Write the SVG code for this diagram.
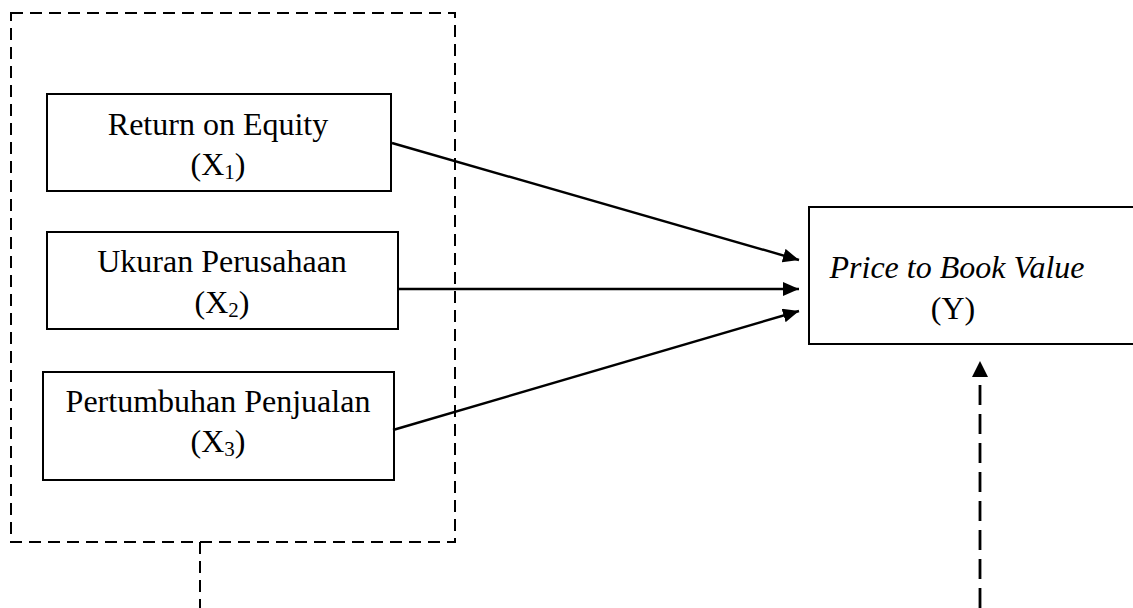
<svg xmlns="http://www.w3.org/2000/svg" width="1133" height="608" viewBox="0 0 1133 608">
<style>
.node{fill:#fff;stroke:#000;stroke-width:2}
.t{font-family:"Liberation Serif","Times New Roman",serif;font-size:32px;fill:#000;text-anchor:middle}
.it{font-style:italic}
.solid{fill:none;stroke:#000;stroke-width:2.4}
.dash{fill:none;stroke:#000;stroke-width:2;stroke-dasharray:12 7}
.dash2{fill:none;stroke:#000;stroke-width:2.8;stroke-dasharray:20 9}
</style>
<defs>
<marker id="ah" viewBox="0 0 16 14" refX="16" refY="7" markerWidth="16" markerHeight="14" markerUnits="userSpaceOnUse" orient="auto">
<path d="M0,0 L16,7 L0,14 Z" fill="#000"/>
</marker>
</defs>
<rect width="1133" height="608" fill="#fff"/>
<g id="group-box">
<rect x="11" y="13" width="444" height="529" class="dash"/>
</g>
<g id="x1">
<rect x="47" y="94" width="344" height="97" class="node"/>
<text class="t" x="218" y="135">Return on Equity</text>
<text class="t" x="218" y="175">(X<tspan font-size="21" dy="4">1</tspan><tspan dy="-4">)</tspan></text>
</g>
<g id="x2">
<rect x="47" y="232" width="351" height="97" class="node"/>
<text class="t" x="222" y="272">Ukuran Perusahaan</text>
<text class="t" x="222" y="313">(X<tspan font-size="21" dy="4">2</tspan><tspan dy="-4">)</tspan></text>
</g>
<g id="x3">
<rect x="43" y="372" width="351" height="108" class="node"/>
<text class="t" x="218" y="412">Pertumbuhan Penjualan</text>
<text class="t" x="218" y="452">(X<tspan font-size="21" dy="4">3</tspan><tspan dy="-4">)</tspan></text>
</g>
<g id="y">
<rect x="809" y="207" width="340" height="137" class="node"/>
<text class="t it" x="957" y="278">Price to Book Value</text>
<text class="t" x="953" y="319">(Y)</text>
</g>
<g id="connectors">
<line x1="392" y1="143" x2="799" y2="260" class="solid" marker-end="url(#ah)"/>
<line x1="398" y1="289" x2="799" y2="289" class="solid" marker-end="url(#ah)"/>
<line x1="393" y1="430" x2="799" y2="311" class="solid" marker-end="url(#ah)"/>
<line x1="200" y1="542" x2="200" y2="608" class="dash"/>
<line x1="980" y1="608" x2="980" y2="376" class="dash2"/>
<path d="M980,361 L988,377 L972,377 Z" fill="#000"/>
</g>
</svg>
